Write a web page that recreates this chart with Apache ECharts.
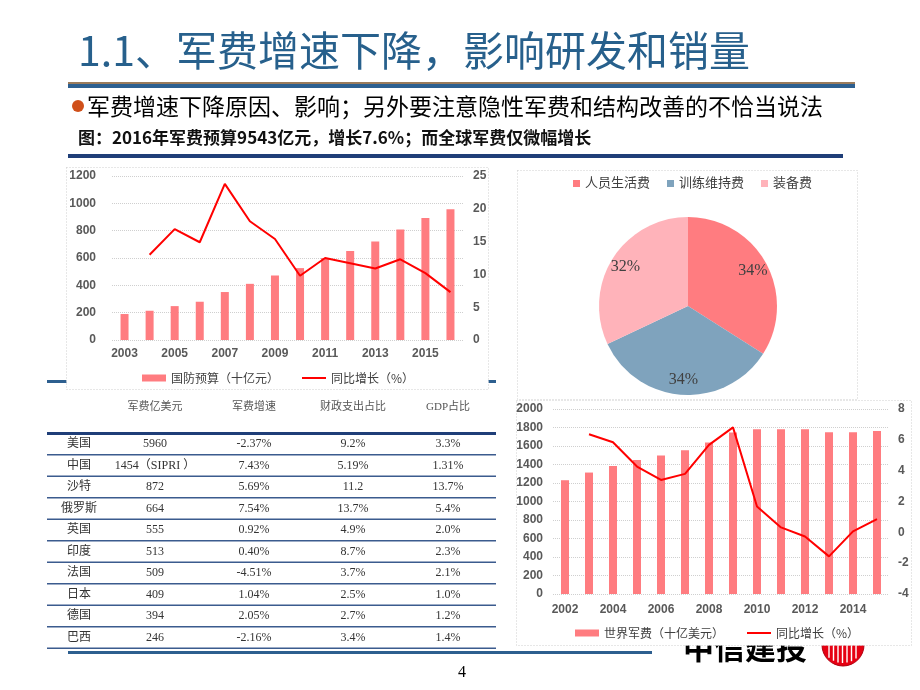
<!DOCTYPE html>
<html><head><meta charset="utf-8">
<script src="https://cdn.jsdelivr.net/npm/echarts@6/dist/echarts.min.js"></script>
<style>html,body{margin:0;padding:0;background:#fff}#c{width:920px;height:690px}</style>
</head><body><div id="c"></div>
<script>
// ---------- data ----------
const cnYears = ['2003','2004','2005','2006','2007','2008','2009','2010','2011','2012','2013','2014','2015','2016'];
const cnBudget = [190,214,248,280,351,411,472,526,600,652,720,808,893,957];
const cnGrowth = [null,13.0,16.9,14.9,23.8,18.1,15.4,9.8,12.5,11.7,10.9,12.3,10.2,7.3];

const pieNames = ['人员生活费','训练维持费','装备费'];
const pieValues = [34,34,32];

const worldYears = ['2002','2003','2004','2005','2006','2007','2008','2009','2010','2011','2012','2013','2014','2015'];
const worldSpend = [1230,1313,1385,1450,1496,1554,1637,1745,1781,1781,1781,1748,1748,1763];
const worldGrowth = [null,6.36,5.84,4.27,3.40,3.79,5.67,6.81,1.68,0.32,-0.27,-1.56,0.06,0.86];

const tableHeaders = ['','军费亿美元','军费增速','财政支出占比','GDP占比'];
const tableCountries = ['美国','中国','沙特','俄罗斯','英国','印度','法国','日本','德国','巴西'];
const tableSpend = ['5960','1454（SIPRI ）','872','664','555','513','509','409','394','246'];
const tableGrowth = ['-2.37%','7.43%','5.69%','7.54%','0.92%','0.40%','-4.51%','1.04%','2.05%','-2.16%'];
const tableFiscal = ['9.2%','5.19%','11.2','13.7%','4.9%','8.7%','3.7%','2.5%','2.7%','3.4%'];
const tableGdp = ['3.3%','1.31%','13.7%','5.4%','2.0%','2.3%','2.1%','1.0%','1.2%','1.4%'];

const titleText = '1.1、军费增速下降，影响研发和销量';
const bulletText = '军费增速下降原因、影响；另外要注意隐性军费和结构改善的不恰当说法';
const captionText = '图：2016年军费预算9543亿元，增长7.6%；而全球军费仅微幅增长';

// ---------- styles ----------
const SANS = '"Liberation Sans","Noto Sans CJK SC",sans-serif';
const CJK = '"Noto Sans CJK SC",sans-serif';
const SERIF = '"Liberation Serif","Noto Sans CJK SC",serif';
const BAR = '#FF7C80';
const LINE = '#FF0000';
const BLUE = '#2D5F8F';
const NAVY = '#1F3E78';

function txt(text, x, y, font, fill, align, z) {
  return {type:'text', z: z == null ? 2 : z, silent:true,
    style:{text:text, x:x, y:y, font:font, fill:fill,
      align:align||'left', verticalAlign:'middle',
      textAlign:align||'left', textVerticalAlign:'middle'}};
}
function rect(x, y, w, h, fill, z) {
  return {type:'rect', z: z == null ? 2 : z, silent:true,
    shape:{x:x, y:y, width:w, height:h}, style:{fill:fill}};
}

const G = [];
// logo behind bottom-right box
G.push(txt('中信建投', 745, 647, 'bold 31px ' + CJK, '#000', 'center', 0));
G.push({type:'circle', z:0, silent:true, shape:{cx:843, cy:645, r:21}, style:{fill:'#E60012', stroke:'#B00010', lineWidth:1}});
[-14,-9.5,-5,-0.5,4,8.5,13].forEach(function(dx){
  const h = Math.sqrt(21*21 - dx*dx) - 3;
  G.push({type:'line', z:0, silent:true, shape:{x1:843+dx, y1:645, x2:843+dx, y2:645+h}, style:{stroke:'#fff', lineWidth:1.4}});
});
// blue line behind top-left chart box
G.push(rect(47, 380, 449, 3, BLUE, 0));
// chart boxes
const boxStyle = {fill:'#fff', stroke:'#cfcfcf', lineWidth:1, lineDash:[1,2]};
G.push({type:'rect', z:1, silent:true, shape:{x:66.5, y:167.5, width:422, height:222}, style:boxStyle});
G.push({type:'rect', z:1, silent:true, shape:{x:517.5, y:170.5, width:340, height:229}, style:boxStyle});
G.push({type:'rect', z:1, silent:true, shape:{x:516.5, y:400.5, width:395, height:245}, style:boxStyle});

// title & lines
G.push(txt(titleText, 78, 50, '41px ' + CJK, '#27608C'));
G.push(rect(68, 82, 787, 2, '#9A7B5C'));
G.push(rect(68, 84, 787, 4, BLUE));
G.push({type:'circle', z:2, silent:true, shape:{cx:78, cy:106, r:6}, style:{fill:'#D0501A'}});
G.push(txt(bulletText, 87, 106, '23px ' + CJK, '#000'));
G.push(txt(captionText, 78, 138, 'bold 17px ' + CJK, '#111'));
G.push(rect(68, 154, 775, 4, NAVY));

// table
const colX = [79, 155, 254, 353, 448];
tableHeaders.forEach(function(h, i){ if (h) G.push(txt(h, colX[i], 407, '11px ' + SERIF, '#555', 'center')); });
G.push(rect(47, 432, 449, 3, NAVY));
const cols = [tableCountries, tableSpend, tableGrowth, tableFiscal, tableGdp];
for (let r = 0; r < tableCountries.length; r++) {
  const cy = 444 + 21.5 * r;
  cols.forEach(function(col, ci){ G.push(txt(col[r], colX[ci], cy, '12px ' + SERIF, '#333', 'center')); });
  G.push(rect(47, cy + 10, 449, 1.5, '#3B5B8E'));
}
G.push(rect(68, 651, 584, 3, BLUE));
// page number
G.push(txt('4', 462, 673, '16px ' + SERIF, '#000', 'center'));

const plain = function(v){ return String(v); };
const axisLbl = {color:'#595959', fontSize:12, fontWeight:'bold', fontFamily:SANS, formatter:plain};
const split = {show:true, lineStyle:{color:'#cfcfcf', type:'dotted', width:1}};
const legText = {fontSize:12, color:'#404040', fontFamily:CJK};
function leg(name, left, top, h) {
  return {left:left, top:top, padding:0, itemWidth:24, itemHeight:h, selectedMode:false, z:5,
    data:[{name:name, icon:'rect'}], textStyle:legText};
}

const chart = echarts.init(document.getElementById('c'), null, {renderer:'canvas'});
chart.setOption({
  animation:false,
  backgroundColor:'#fff',
  textStyle:{fontFamily:SANS},
  graphic:{elements:G},
  legend:[
    leg('国防预算（十亿元）', 142, 372, 7),
    leg('同比增长（%）', 302, 372, 2),
    {left:573, top:177, padding:0, itemWidth:7, itemHeight:7, itemGap:17, selectedMode:false, z:5, icon:'rect',
     data:pieNames, textStyle:{fontSize:13, color:'#404040', fontFamily:SERIF}},
    leg('世界军费（十亿美元）', 575, 627, 7),
    leg('同比增长（%）', 747, 627, 2)
  ],
  grid:[
    {left:112, top:176, width:351, height:164, containLabel:false},
    {left:553, top:409, width:336, height:185, containLabel:false}
  ],
  xAxis:[
    {type:'category', gridIndex:0, data:cnYears, z:3,
     axisLine:{show:false}, axisTick:{show:false}, axisLabel:Object.assign({}, axisLbl, {interval:1, margin:8})},
    {type:'category', gridIndex:1, data:worldYears, z:3,
     axisLine:{show:false}, axisTick:{show:false}, axisLabel:Object.assign({}, axisLbl, {interval:1, margin:10})}
  ],
  yAxis:[
    {type:'value', gridIndex:0, min:0, max:1200, interval:200, z:3,
     axisLine:{show:false}, axisTick:{show:false}, axisLabel:Object.assign({}, axisLbl, {margin:16}), splitLine:split},
    {type:'value', gridIndex:0, min:0, max:25, interval:5, position:'right', z:3,
     axisLine:{show:false}, axisTick:{show:false}, axisLabel:Object.assign({}, axisLbl, {margin:10}), splitLine:{show:false}},
    {type:'value', gridIndex:1, min:0, max:2000, interval:200, z:3,
     axisLine:{show:false}, axisTick:{show:false}, axisLabel:Object.assign({}, axisLbl, {margin:10}), splitLine:split},
    {type:'value', gridIndex:1, min:-4, max:8, interval:2, position:'right', z:3,
     axisLine:{show:false}, axisTick:{show:false}, axisLabel:Object.assign({}, axisLbl, {margin:9}), splitLine:{show:false}}
  ],
  series:[
    {name:'国防预算（十亿元）', type:'bar', xAxisIndex:0, yAxisIndex:0, data:cnBudget, barWidth:8, z:4,
     itemStyle:{color:BAR}, emphasis:{disabled:true}},
    {name:'同比增长（%）', type:'line', xAxisIndex:0, yAxisIndex:1, data:cnGrowth, symbol:'none', z:5,
     lineStyle:{color:LINE, width:2}, itemStyle:{color:LINE}, emphasis:{disabled:true}},
    {name:'pie', type:'pie', center:[688,306], radius:[0,89], startAngle:90, clockwise:true, z:4,
     label:{show:false}, labelLine:{show:false}, emphasis:{disabled:true},
     data:pieNames.map(function(n,i){return {name:n, value:pieValues[i], itemStyle:{color:['#FF7C80','#7FA3BD','#FFB3BA'][i]}};})},
    {name:'pieLabels', type:'pie', center:[688,306], radius:[53,89], startAngle:90, clockwise:true, z:5, silent:true,
     itemStyle:{color:'rgba(0,0,0,0)'}, labelLine:{show:false}, emphasis:{disabled:true},
     label:{show:true, position:'inside', formatter:'{c}%', fontSize:16, color:'#404040', fontFamily:SERIF},
     data:pieNames.map(function(n,i){return {name:n, value:pieValues[i]};})},
    {name:'世界军费（十亿美元）', type:'bar', xAxisIndex:1, yAxisIndex:2, data:worldSpend, barWidth:8, z:4,
     itemStyle:{color:BAR}, emphasis:{disabled:true}},
    {name:'同比增长（%）', type:'line', xAxisIndex:1, yAxisIndex:3, data:worldGrowth, symbol:'none', z:5,
     lineStyle:{color:LINE, width:2}, itemStyle:{color:LINE}, emphasis:{disabled:true}}
  ]
});
</script></body></html>
